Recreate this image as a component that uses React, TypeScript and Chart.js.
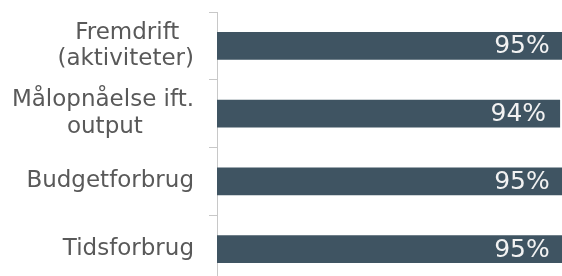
import React, { useEffect, useRef } from 'react';
import { Chart, registerables } from 'chart.js';

Chart.register(...registerables);

// Category labels (lines of each block are centred by padding the shorter line)
const categories: (string | string[])[] = [
  ['Fremdrift  ', '(aktiviteter)'],
  ['Målopnåelse ift.', 'output       '],
  'Budgetforbrug',
  'Tidsforbrug',
];
const values: number[] = [95, 94, 95, 95];
const valueSuffix = '%';
const axisMin = 0;
const axisMax = 100;

const valueLabels = {
  id: 'valueLabels',
  afterDatasetsDraw(chart: any) {
    const ctx = chart.ctx;
    const meta = chart.getDatasetMeta(0);
    ctx.save();
    ctx.font = '25px "DejaVu Sans"';
    ctx.fillStyle = '#f2f2f2';
    ctx.textAlign = 'right';
    ctx.textBaseline = 'middle';
    meta.data.forEach((bar: any, i: number) => {
      ctx.fillText(values[i] + valueSuffix, bar.x - 14, bar.y + 1);
    });
    ctx.restore();
  },
};

export default function App() {
  const ref = useRef<HTMLCanvasElement>(null);
  useEffect(() => {
    if (!ref.current) return;
    const chart = new Chart(ref.current, {
      type: 'bar',
      data: {
        labels: categories,
        datasets: [
          {
            data: values,
            backgroundColor: '#3f5462',
            categoryPercentage: 1,
            barPercentage: 0.41,
          },
        ],
      },
      options: {
        indexAxis: 'y',
        animation: false,
        responsive: false,
        maintainAspectRatio: false,
        layout: { padding: { top: 12, bottom: 7, left: 0, right: 0 } },
        plugins: { legend: { display: false }, tooltip: { enabled: false } },
        scales: {
          x: { display: false, min: axisMin, max: axisMax },
          y: {
            afterFit: (s: any) => {
              s.width = 217;
              s.paddingTop = 0;
              s.paddingBottom = 0;
              s.paddingLeft = 0;
              s.paddingRight = 0;
            },
            grid: { drawOnChartArea: false, tickLength: 8, color: '#c8c8c8', offset: true },
            border: { color: '#c8c8c8', width: 1 },
            ticks: {
              font: { family: '"DejaVu Sans"', size: 23, lineHeight: 1.15 },
              color: '#595959',
              padding: 15,
              crossAlign: 'near',
            },
          },
        },
      },
      plugins: [valueLabels],
    } as any);
    return () => chart.destroy();
  }, []);
  return (
    <div style={{ position: 'fixed', left: 0, top: 0, width: 562, height: 276, overflow: 'hidden', background: '#fff' }}>
      <canvas ref={ref} width={582} height={290} />
    </div>
  );
}
